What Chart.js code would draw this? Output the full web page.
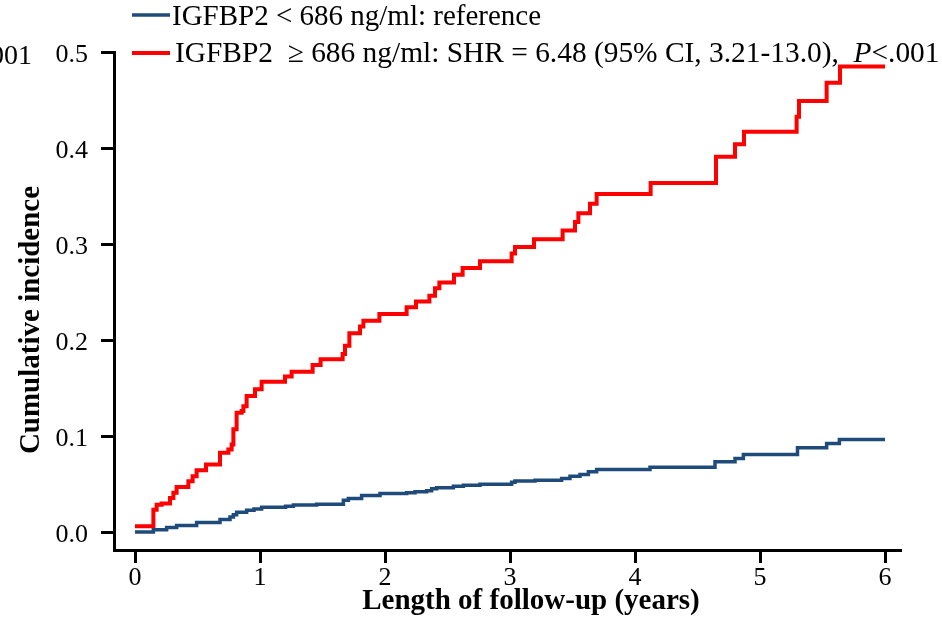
<!DOCTYPE html>
<html>
<head>
<meta charset="utf-8">
<script src="https://cdn.jsdelivr.net/npm/chart.js@4.4.1/dist/chart.umd.min.js"></script>
<style>
  html, body { margin: 0; padding: 0; background: #fff; }
  #wrap { width: 942px; height: 620px; }
</style>
</head>
<body>
<div id="wrap"><canvas id="cif" width="942" height="620"></canvas></div>
<script>
// step times (years) and cumulative incidence after each step
const lowTimes = [0, 0.147, 0.253, 0.333, 0.493, 0.68, 0.76, 0.787, 0.813, 0.893, 0.952, 1.013, 1.205, 1.267, 1.453,
  1.667, 1.707, 1.813, 1.96, 2.173, 2.24, 2.333, 2.373, 2.413, 2.547, 2.627, 2.76, 3.013, 3.04, 3.2, 3.413,
  3.48, 3.56, 3.627, 3.693, 4.12, 4.64, 4.8, 4.867, 5.3, 5.533, 5.635, 6.0];
const lowCif = [0, 0.0024, 0.0048, 0.0069, 0.010, 0.013, 0.0157, 0.018, 0.0205, 0.0226, 0.024, 0.0257, 0.0268, 0.028, 0.029,
  0.033, 0.035, 0.038, 0.040, 0.041, 0.042, 0.043, 0.045, 0.046, 0.0476, 0.0487, 0.0497, 0.0518, 0.053, 0.054, 0.0557,
  0.058, 0.060, 0.0627, 0.065, 0.0675, 0.0731, 0.0766, 0.0808, 0.0878, 0.0923, 0.0964, 0.0964];

const highTimes = [0, 0.147, 0.173, 0.213, 0.28, 0.307, 0.333, 0.427, 0.461, 0.493, 0.568, 0.68, 0.747, 0.773, 0.787,
  0.813, 0.853, 0.867, 0.893, 0.96, 1.013, 1.2, 1.253, 1.421, 1.485, 1.661, 1.68, 1.715, 1.8, 1.827, 1.955,
  2.173, 2.248, 2.355, 2.4, 2.435, 2.552, 2.621, 2.76, 3.013, 3.04, 3.192, 3.421, 3.52, 3.547, 3.64, 3.693,
  4.125, 4.648, 4.8, 4.872, 5.293, 5.312, 5.533, 5.64, 6.0];
const highCif = [0.006, 0.0233, 0.0285, 0.0296, 0.0355, 0.0408, 0.047, 0.0529, 0.058, 0.0644, 0.0703, 0.0825, 0.086, 0.0912, 0.107,
  0.1243, 0.126, 0.131, 0.1417, 0.1487, 0.1565, 0.162, 0.167, 0.174, 0.180, 0.1855, 0.194, 0.207, 0.214, 0.220, 0.227,
  0.234, 0.240, 0.246, 0.254, 0.260, 0.268, 0.275, 0.282, 0.290, 0.297, 0.305, 0.314, 0.323, 0.332, 0.342, 0.352,
  0.3636, 0.3908, 0.404, 0.417, 0.4326, 0.449, 0.468, 0.485, 0.485];

const xTicks = [0, 1, 2, 3, 4, 5, 6];
const yTicks = [0, 0.1, 0.2, 0.3, 0.4, 0.5];

const lowLabel = 'IGFBP2 < 686 ng/ml: reference';
const highLabel = ['IGFBP2  \u2265 686 ng/ml: SHR = 6.48 (95% CI, 3.21-13.0),  ', 'P', '<.001'];
const xTitle = 'Length of follow-up (years)';
const yTitle = 'Cumulative incidence';

const serif = '"Liberation Serif", "Times New Roman", serif';
const blue = '#1f4b7a';
const red = '#ff0000';

function toPoints(ts, vs) {
  return ts.map((t, i) => ({ x: t, y: vs[i] }));
}

// legend and axis titles drawn by hand (the figure has them off-centre)
const annotations = {
  id: 'annotations',
  afterDraw(chart) {
    const ctx = chart.ctx;
    ctx.save();
    ctx.lineCap = 'butt';

    ctx.strokeStyle = blue;
    ctx.lineWidth = 3.5;
    ctx.beginPath(); ctx.moveTo(132, 15); ctx.lineTo(170, 15); ctx.stroke();

    ctx.strokeStyle = red;
    ctx.lineWidth = 4;
    ctx.beginPath(); ctx.moveTo(132, 53); ctx.lineTo(170, 53); ctx.stroke();

    ctx.fillStyle = '#000';
    ctx.textBaseline = 'alphabetic';
    ctx.textAlign = 'left';
    ctx.font = '29px ' + serif;
    ctx.fillText(lowLabel, 172, 25);

    let x = 175;
    highLabel.forEach((part, i) => {
      ctx.font = (i === 1 ? 'italic ' : '') + '29.4px ' + serif;
      ctx.fillText(part, x, 62);
      x += ctx.measureText(part).width;
    });

    // tail of the p-value that shows at the far left of the figure
    ctx.font = '28px ' + serif;
    ctx.textAlign = 'right';
    ctx.fillText('001', 32, 64);

    // axis titles
    ctx.font = 'bold 29px ' + serif;
    ctx.textAlign = 'center';
    ctx.textBaseline = 'middle';
    ctx.fillText(xTitle, 531, 601.5);

    ctx.translate(32, 320);
    ctx.rotate(-Math.PI / 2);
    ctx.fillText(yTitle, 0, 0);
    ctx.restore();
  }
};

new Chart(document.getElementById('cif'), {
  type: 'line',
  data: {
    datasets: [
      {
        label: lowLabel,
        data: toPoints(lowTimes, lowCif),
        borderColor: blue,
        borderWidth: 3.5,
        stepped: true,
        pointRadius: 0,
        fill: false
      },
      {
        label: highLabel.join(''),
        data: toPoints(highTimes, highCif),
        borderColor: red,
        borderWidth: 4,
        stepped: true,
        pointRadius: 0,
        fill: false
      }
    ]
  },
  options: {
    responsive: false,
    animation: false,
    layout: { padding: { top: 52, right: 41, bottom: 0, left: 0 } },
    plugins: {
      legend: { display: false },
      tooltip: { enabled: false }
    },
    scales: {
      x: {
        type: 'linear',
        min: -0.168,
        max: 6.128,
        afterFit: s => { s.height = 70; },
        afterBuildTicks: s => { s.ticks = xTicks.map(v => ({ value: v })); },
        grid: {
          drawOnChartArea: false,
          drawTicks: true,
          tickLength: 13,
          tickWidth: 3,
          tickColor: '#000'
        },
        border: { display: true, color: '#000', width: 3 },
        ticks: {
          color: '#000',
          padding: 2,
          maxRotation: 0,
          font: { family: serif, size: 26, lineHeight: 1 },
          callback: v => String(v)
        }
      },
      y: {
        type: 'linear',
        min: -0.01875,
        max: 0.5,
        afterFit: s => { s.width = 114; },
        afterBuildTicks: s => { s.ticks = yTicks.map(v => ({ value: v })); },
        grid: {
          drawOnChartArea: false,
          drawTicks: true,
          tickLength: 13,
          tickWidth: 3,
          tickColor: '#000'
        },
        border: { display: true, color: '#000', width: 3 },
        ticks: {
          color: '#000',
          padding: 13,
          // empty first line nudges the label a few pixels below its tick, as in the figure
          font: { family: serif, size: 26, lineHeight: '7px' },
          callback: v => ['', v.toFixed(1)]
        }
      }
    }
  },
  plugins: [annotations]
});
</script>
</body>
</html>
